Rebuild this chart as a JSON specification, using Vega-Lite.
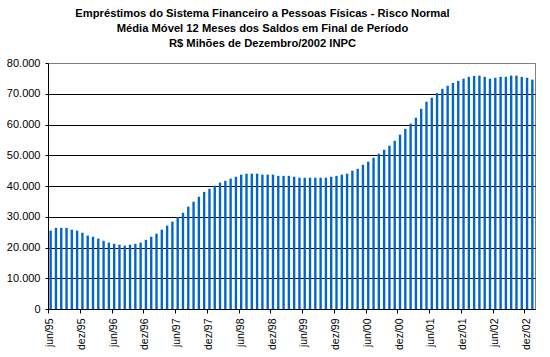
{
  "$schema": "https://vega.github.io/schema/vega-lite/v6.json",
  "autosize": {"type": "none"},
  "padding": {"left": 48, "top": 63, "right": 15, "bottom": 48},
  "width": 487,
  "height": 246,
  "background": "white",
  "config": {
    "font": "Liberation Sans",
    "view": {"stroke": "#808080", "strokeWidth": 1}
  },
  "title": {
    "text": ["Empréstimos do Sistema Financeiro a Pessoas Físicas - Risco Normal", "Média Móvel 12 Meses dos Saldos em Final de Período", "R$ Mihões de Dezembro/2002 INPC"],
    "fontSize": 11.2,
    "fontWeight": "bold",
    "font": "Liberation Sans",
    "color": "black",
    "anchor": "middle",
    "dx": -29,
    "lineHeight": 15,
    "offset": 8
  },
  "data": {
    "values": [
      {"mes": "jun/95", "valor": 25500}, {"mes": "jul/95", "valor": 26400}, {"mes": "ago/95", "valor": 26400}, {"mes": "set/95", "valor": 26400}, {"mes": "out/95", "valor": 25800}, {"mes": "nov/95", "valor": 25500},
      {"mes": "dez/95", "valor": 24800}, {"mes": "jan/96", "valor": 23900}, {"mes": "fev/96", "valor": 23500}, {"mes": "mar/96", "valor": 22900}, {"mes": "abr/96", "valor": 22200}, {"mes": "mai/96", "valor": 21600},
      {"mes": "jun/96", "valor": 21200}, {"mes": "jul/96", "valor": 20900}, {"mes": "ago/96", "valor": 20600}, {"mes": "set/96", "valor": 20900}, {"mes": "out/96", "valor": 21200}, {"mes": "nov/96", "valor": 21600},
      {"mes": "dez/96", "valor": 22500}, {"mes": "jan/97", "valor": 23500}, {"mes": "fev/97", "valor": 24500}, {"mes": "mar/97", "valor": 25800}, {"mes": "abr/97", "valor": 27100}, {"mes": "mai/97", "valor": 28400},
      {"mes": "jun/97", "valor": 29900}, {"mes": "jul/97", "valor": 31300}, {"mes": "ago/97", "valor": 33300}, {"mes": "set/97", "valor": 34900}, {"mes": "out/97", "valor": 36500}, {"mes": "nov/97", "valor": 38100},
      {"mes": "dez/97", "valor": 39100}, {"mes": "jan/98", "valor": 40100}, {"mes": "fev/98", "valor": 41100}, {"mes": "mar/98", "valor": 41700}, {"mes": "abr/98", "valor": 42400}, {"mes": "mai/98", "valor": 43000},
      {"mes": "jun/98", "valor": 43700}, {"mes": "jul/98", "valor": 44000}, {"mes": "ago/98", "valor": 44000}, {"mes": "set/98", "valor": 44000}, {"mes": "out/98", "valor": 43700}, {"mes": "nov/98", "valor": 43700},
      {"mes": "dez/98", "valor": 43700}, {"mes": "jan/99", "valor": 43300}, {"mes": "fev/99", "valor": 43300}, {"mes": "mar/99", "valor": 43300}, {"mes": "abr/99", "valor": 43000}, {"mes": "mai/99", "valor": 42700},
      {"mes": "jun/99", "valor": 42700}, {"mes": "jul/99", "valor": 42700}, {"mes": "ago/99", "valor": 42700}, {"mes": "set/99", "valor": 42700}, {"mes": "out/99", "valor": 42700}, {"mes": "nov/99", "valor": 43000},
      {"mes": "dez/99", "valor": 43300}, {"mes": "jan/00", "valor": 43700}, {"mes": "fev/00", "valor": 44000}, {"mes": "mar/00", "valor": 45000}, {"mes": "abr/00", "valor": 45600}, {"mes": "mai/00", "valor": 46900},
      {"mes": "jun/00", "valor": 47900}, {"mes": "jul/00", "valor": 49200}, {"mes": "ago/00", "valor": 50500}, {"mes": "set/00", "valor": 51800}, {"mes": "out/00", "valor": 53100}, {"mes": "nov/00", "valor": 54700},
      {"mes": "dez/00", "valor": 56700}, {"mes": "jan/01", "valor": 58600}, {"mes": "fev/01", "valor": 60300}, {"mes": "mar/01", "valor": 62200}, {"mes": "abr/01", "valor": 65100}, {"mes": "mai/01", "valor": 67400},
      {"mes": "jun/01", "valor": 68700}, {"mes": "jul/01", "valor": 70200}, {"mes": "ago/01", "valor": 71600}, {"mes": "set/01", "valor": 72600}, {"mes": "out/01", "valor": 73500}, {"mes": "nov/01", "valor": 74200},
      {"mes": "dez/01", "valor": 74900}, {"mes": "jan/02", "valor": 75500}, {"mes": "fev/02", "valor": 75800}, {"mes": "mar/02", "valor": 75900}, {"mes": "abr/02", "valor": 75500}, {"mes": "mai/02", "valor": 74900},
      {"mes": "jun/02", "valor": 75200}, {"mes": "jul/02", "valor": 75500}, {"mes": "ago/02", "valor": 75500}, {"mes": "set/02", "valor": 75900}, {"mes": "out/02", "valor": 75900}, {"mes": "nov/02", "valor": 75500},
      {"mes": "dez/02", "valor": 75200}, {"mes": "jan/03", "valor": 74600}
    ]
  },
  "mark": {"type": "bar", "color": "#0066cc"},
  "encoding": {
    "x": {
      "field": "mes",
      "type": "ordinal",
      "sort": null,
      "scale": {"paddingInner": 0.55, "paddingOuter": 0.275},
      "axis": {
        "title": null,
        "values": ["jun/95", "dez/95", "jun/96", "dez/96", "jun/97", "dez/97", "jun/98", "dez/98", "jun/99", "dez/99", "jun/00", "dez/00", "jun/01", "dez/01", "jun/02", "dez/02"],
        "bandPosition": 0,
        "tickOffset": -1.45,
        "labelOffset": 0.5,
        "labelAngle": -90,
        "labelAlign": "right",
        "labelBaseline": "middle",
        "labelFontSize": 10.5,
        "labelColor": "black",
        "labelPadding": 5,
        "tickSize": 4,
        "tickColor": "black",
        "domainColor": "black",
        "grid": false
      }
    },
    "y": {
      "field": "valor",
      "type": "quantitative",
      "scale": {"domain": [0, 80000], "nice": false},
      "axis": {
        "title": null,
        "values": [0, 10000, 20000, 30000, 40000, 50000, 60000, 70000, 80000],
        "labelExpr": "replace(format(datum.value, ','), ',', '.')",
        "labelFontSize": 11,
        "labelColor": "black",
        "labelPadding": 5,
        "tickSize": 3,
        "tickColor": "black",
        "domainColor": "black",
        "grid": true,
        "gridColor": {"condition": {"test": "datum.value == 80000", "value": "#808080"}, "value": "black"},
        "gridOpacity": 1
      }
    }
  }
}
